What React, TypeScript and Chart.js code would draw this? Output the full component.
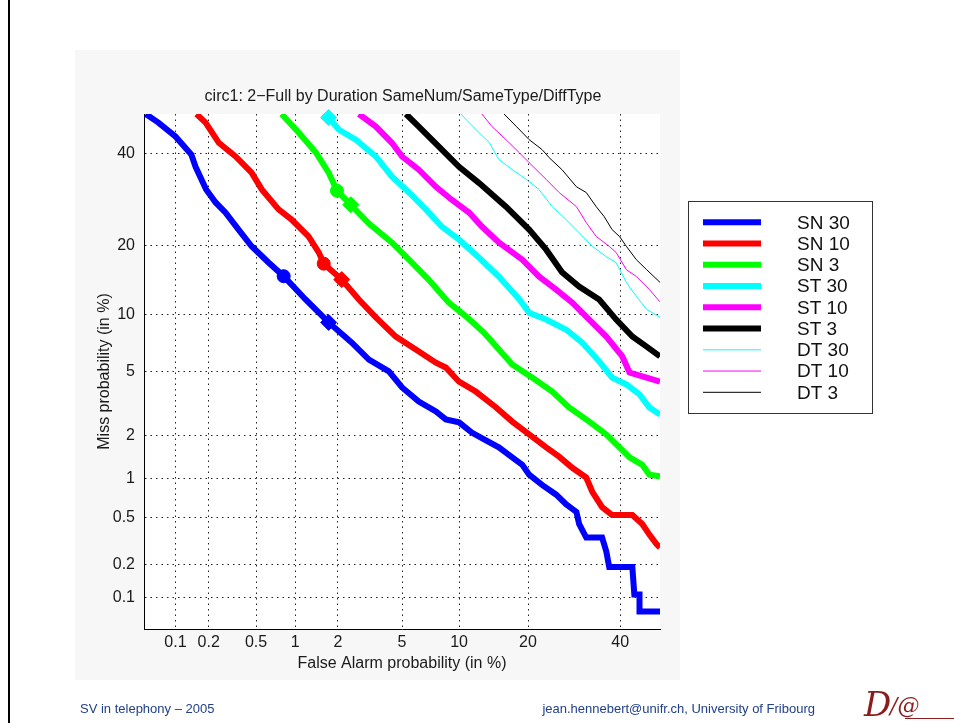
import React, { useEffect, useRef } from 'react';
import { Chart, Scale, LineController, LineElement, PointElement } from 'chart.js';

const FONT = "'Liberation Sans', Arial, Helvetica, sans-serif";

// ---- axis ----
const TICK_VALUES = [0.1, 0.2, 0.5, 1, 2, 5, 10, 20, 40];
const AXIS_MIN = 0.05;
const AXIS_MAX = 50;

// ---- series (False Alarm % / Miss %) ----
const SN30_FA = [0.052, 0.069, 0.1, 0.14, 0.153, 0.19, 0.23, 0.28, 0.36, 0.46, 0.63, 0.82, 1.19, 1.73, 2.47, 3.17, 4.19, 5.0, 6.2, 7.65, 8.6, 10.0, 11.5, 13.1, 15.2, 17.3, 19.0, 20.2, 22.6, 25.4, 27.5, 29.7, 30.3, 31.9, 35.6, 36.6, 37.3, 43.0, 43.5, 44.8, 44.8, 50];
const SN30_MISS = [50, 47.8, 44.3, 39.8, 36.8, 31.5, 28.6, 26.4, 23.0, 19.9, 17.1, 15.0, 11.8, 9.15, 7.2, 5.83, 5.0, 4.03, 3.31, 2.87, 2.55, 2.44, 2.09, 1.88, 1.66, 1.41, 1.25, 1.06, 0.89, 0.75, 0.63, 0.55, 0.44, 0.34, 0.34, 0.26, 0.19, 0.19, 0.107, 0.107, 0.074, 0.074];

const SN10_FA = [0.156, 0.188, 0.245, 0.34, 0.46, 0.555, 0.75, 0.94, 1.25, 1.48, 1.6, 2.12, 2.74, 3.5, 4.6, 6.0, 7.65, 8.6, 10.0, 12.0, 14.8, 17.3, 20.2, 23.4, 26.0, 28.8, 31.9, 33.3, 35.6, 38.0, 43.0, 45.5, 47.3, 49.1, 50];
const SN10_MISS = [50, 47.8, 42.7, 39.3, 35.4, 31.5, 27.1, 25.0, 21.7, 18.8, 16.95, 14.5, 11.8, 9.7, 7.75, 6.6, 5.6, 5.26, 4.36, 3.81, 3.04, 2.47, 2.03, 1.66, 1.43, 1.19, 1.01, 0.79, 0.6, 0.52, 0.52, 0.44, 0.36, 0.3, 0.28];

const SN3_FA = [0.79, 1.06, 1.41, 1.73, 1.97, 2.43, 3.17, 4.36, 5.47, 7.0, 8.9, 10.8, 13.1, 17.3, 20.8, 24.6, 28.1, 32.6, 36.6, 39.8, 42.3, 45.5, 47.3, 50];
const SN3_MISS = [50, 45.3, 40.3, 35.4, 31.2, 28.1, 24.2, 20.6, 17.6, 14.5, 11.4, 9.8, 8.1, 5.47, 4.6, 3.81, 3.04, 2.47, 2.03, 1.66, 1.41, 1.25, 1.06, 1.03];

const ST30_FA = [1.65, 2.03, 2.62, 3.5, 4.36, 5.47, 6.77, 8.2, 10.0, 12.4, 15.2, 18.5, 20.2, 23.4, 27.5, 31.0, 34.9, 38.0, 41.5, 44.8, 47.3, 50];
const ST30_MISS = [50, 46.0, 43.5, 39.3, 34.5, 30.8, 27.1, 23.6, 21.1, 17.96, 14.96, 11.8, 10.2, 9.45, 8.4, 7.2, 5.7, 4.6, 4.2, 3.66, 3.04, 2.74];

const ST10_FA = [2.74, 3.5, 4.36, 5.0, 6.2, 7.65, 9.2, 11.2, 12.8, 15.2, 19.0, 22.0, 25.4, 28.8, 32.6, 36.6, 40.5, 42.3, 46.6, 50];
const ST10_MISS = [50, 46.8, 42.7, 39.3, 36.1, 32.1, 29.2, 26.4, 23.6, 20.6, 17.6, 14.96, 13.1, 11.4, 9.45, 7.75, 6.07, 4.93, 4.6, 4.37];

const ST3_FA = [5.26, 6.2, 7.9, 10.0, 12.4, 16.3, 20.2, 23.4, 26.6, 30.3, 34.9, 39.0, 43.0, 46.6, 50];
const ST3_MISS = [50, 46.8, 41.8, 36.8, 33.0, 27.7, 23.0, 19.3, 15.6, 13.5, 11.8, 9.45, 7.75, 6.86, 6.07];

const DT30_FA = [10.2, 12.4, 13.8, 15.2, 17.3, 19.7, 22.0, 24.6, 27.5, 30.3, 33.3, 36.6, 39.0, 41.5, 44.0, 46.6, 50];
const DT30_MISS = [50, 45.3, 42.8, 38.6, 36.1, 33.8, 31.5, 27.7, 25.0, 22.4, 19.9, 18.1, 17.1, 14.1, 12.2, 10.6, 9.7];

const DT10_FA = [12.8, 14.2, 16.3, 18.5, 20.2, 23.4, 26.0, 29.7, 31.9, 34.2, 37.3, 39.0, 41.5, 44.0, 47.3, 50];
const DT10_MISS = [50, 46.8, 43.5, 40.2, 37.8, 33.8, 30.8, 27.7, 24.4, 21.7, 19.9, 18.8, 16.0, 14.96, 13.1, 11.5];

const DT3_FA = [16.0, 18.0, 20.2, 22.6, 24.0, 26.6, 29.7, 31.9, 34.2, 36.1, 38.0, 39.8, 41.5, 44.0, 46.6, 50];
const DT3_MISS = [50, 46.8, 43.5, 41.0, 39.0, 36.1, 32.1, 30.8, 27.7, 25.6, 23.0, 21.7, 19.9, 17.6, 16.0, 14.1];

// ---- operating-point markers ----
const CIRCLE_FA = [0.82, 1.6, 1.97];
const CIRCLE_MISS = [15.0, 16.95, 31.2];
const CIRCLE_COLORS = ['#0000ff', '#ff0000', '#00ff00'];
const DIAMOND_FA = [1.73, 2.12, 2.43, 1.73];
const DIAMOND_MISS = [9.15, 14.5, 28.1, 49.1];
const DIAMOND_COLORS = ['#0000ff', '#ff0000', '#00ff00', '#00ffff'];

const SERIES = [
  { label: 'SN 30', fa: SN30_FA, miss: SN30_MISS, color: '#0000ff', width: 6 },
  { label: 'SN 10', fa: SN10_FA, miss: SN10_MISS, color: '#ff0000', width: 6 },
  { label: 'SN 3', fa: SN3_FA, miss: SN3_MISS, color: '#00ff00', width: 6 },
  { label: 'ST 30', fa: ST30_FA, miss: ST30_MISS, color: '#00ffff', width: 6 },
  { label: 'ST 10', fa: ST10_FA, miss: ST10_MISS, color: '#ff00ff', width: 6 },
  { label: 'ST 3', fa: ST3_FA, miss: ST3_MISS, color: '#000000', width: 6 },
  { label: 'DT 30', fa: DT30_FA, miss: DT30_MISS, color: '#00ffff', width: 1 },
  { label: 'DT 10', fa: DT10_FA, miss: DT10_MISS, color: '#ff00ff', width: 1 },
  { label: 'DT 3', fa: DT3_FA, miss: DT3_MISS, color: '#000000', width: 1 },
];

const TITLE = 'circ1: 2\u2212Full by Duration SameNum/SameType/DiffType';

// inverse normal CDF (Acklam)
function probit(p: number): number {
  const a = [-3.969683028665376e1, 2.209460984245205e2, -2.759285104469687e2, 1.38357751867269e2, -3.066479806614716e1, 2.506628277459239];
  const b = [-5.447609879822406e1, 1.615858368580409e2, -1.556989798598866e2, 6.680131188771972e1, -1.328068155288572e1];
  const c = [-7.784894002430293e-3, -3.223964580411365e-1, -2.400758277161838, -2.549732539343734, 4.374664141464968, 2.938163982698783];
  const d = [7.784695709041462e-3, 3.224671290700398e-1, 2.445134137142996, 3.754408661907416];
  const pl = 0.02425;
  if (p < pl) {
    const q = Math.sqrt(-2 * Math.log(p));
    return (((((c[0] * q + c[1]) * q + c[2]) * q + c[3]) * q + c[4]) * q + c[5]) / ((((d[0] * q + d[1]) * q + d[2]) * q + d[3]) * q + 1);
  }
  if (p <= 1 - pl) {
    const q = p - 0.5;
    const r = q * q;
    return ((((((a[0] * r + a[1]) * r + a[2]) * r + a[3]) * r + a[4]) * r + a[5]) * q) / (((((b[0] * r + b[1]) * r + b[2]) * r + b[3]) * r + b[4]) * r + 1);
  }
  const q = Math.sqrt(-2 * Math.log(1 - p));
  return -(((((c[0] * q + c[1]) * q + c[2]) * q + c[3]) * q + c[4]) * q + c[5]) / ((((d[0] * q + d[1]) * q + d[2]) * q + d[3]) * q + 1);
}

function normCdf(z: number): number {
  const t = 1 / (1 + 0.2316419 * Math.abs(z));
  const y = 0.3989423 * Math.exp(-z * z / 2) * t * (0.3193815 + t * (-0.3565638 + t * (1.781478 + t * (-1.821256 + t * 1.330274))));
  return z > 0 ? 1 - y : y;
}

class ProbitScale extends Scale {
  static id = 'probit';
  static defaults = {};
  _zmin = 0;
  _zmax = 1;
  determineDataLimits() {
    this.min = this.options.min;
    this.max = this.options.max;
  }
  buildTicks() {
    return TICK_VALUES.map((value) => ({ value }));
  }
  configure() {
    super.configure();
    this._zmin = probit(this.min / 100);
    this._zmax = probit(this.max / 100);
  }
  getPixelForValue(v: number) {
    const z = probit(v / 100);
    return this.getPixelForDecimal((z - this._zmin) / (this._zmax - this._zmin));
  }
  getValueForPixel(px: number) {
    const dec = this.getDecimalForPixel(px);
    return 100 * normCdf(this._zmin + dec * (this._zmax - this._zmin));
  }
  getLabelForValue(v: number) {
    return String(v);
  }
}

Chart.register(LineController, LineElement, PointElement, ProbitScale);

const toPoints = (xs: number[], ys: number[]) => xs.map((x, i) => ({ x, y: ys[i] }));

const overlayPlugin = {
  id: 'overlay',
  beforeDatasetsDraw(chart: any) {},
  beforeDraw(chart: any) {
    const { ctx, chartArea } = chart;
    ctx.save();
    ctx.fillStyle = '#ffffff';
    ctx.fillRect(chartArea.left, chartArea.top, chartArea.right - chartArea.left, chartArea.bottom - chartArea.top);
    ctx.restore();
  },
  afterDraw(chart: any) {
    const { ctx, chartArea } = chart;
    ctx.save();
    // title
    ctx.fillStyle = '#1a1a1a';
    ctx.font = `16px ${FONT}`;
    ctx.textAlign = 'center';
    ctx.textBaseline = 'middle';
    ctx.fillText(TITLE, (chartArea.left + chartArea.right) / 2 + 1, 97);

    // legend
    const bx = 688, by = 201, bw = 184, bh = 212;
    ctx.fillStyle = '#ffffff';
    ctx.fillRect(bx, by, bw, bh);
    ctx.strokeStyle = '#333333';
    ctx.lineWidth = 1;
    ctx.strokeRect(bx + 0.5, by + 0.5, bw, bh);
    ctx.font = `19px ${FONT}`;
    ctx.textAlign = 'left';
    ctx.textBaseline = 'middle';
    SERIES.forEach((s, i) => {
      const y = 222.3 + i * 21.25;
      ctx.strokeStyle = s.color;
      ctx.lineWidth = s.width;
      ctx.beginPath();
      ctx.moveTo(703, y);
      ctx.lineTo(761, y);
      ctx.stroke();
      ctx.fillStyle = '#111111';
      ctx.fillText(s.label, 797, y + 1);
    });
    ctx.restore();
  },
};

const axisCommon = (titleText: string, isX: boolean) => ({
  type: 'probit',
  position: isX ? 'bottom' : 'left',
  min: AXIS_MIN,
  max: AXIS_MAX,
  grid: { color: '#222222', lineWidth: 1, drawTicks: false },
  border: { display: true, color: '#000000', width: 1, dash: [1.5, 4] },
  ticks: { color: '#1a1a1a', font: { family: FONT, size: 16 }, padding: isX ? 4 : 9, autoSkip: false, maxRotation: 0 },
  title: {
    display: true,
    text: titleText,
    color: '#1a1a1a',
    font: { family: FONT, size: 16 },
    padding: isX ? { top: 0, bottom: 4 } : { top: 4, bottom: 0 },
  },
  afterFit: (scale: any) => {
    if (isX) scale.height = 48;
    else scale.width = 53;
  },
});

export default function App() {
  const ref = useRef<HTMLCanvasElement>(null);
  useEffect(() => {
    if (!ref.current) return;
    const markerSets = [
      {
        label: '',
        data: toPoints(CIRCLE_FA, CIRCLE_MISS),
        showLine: false,
        pointStyle: 'circle',
        pointRadius: 6.5,
        pointBackgroundColor: CIRCLE_COLORS,
        pointBorderColor: CIRCLE_COLORS,
        pointBorderWidth: 1,
        clip: false,
      },
      {
        label: '',
        data: toPoints(DIAMOND_FA, DIAMOND_MISS),
        showLine: false,
        pointStyle: 'rectRot',
        pointRadius: 8,
        pointBackgroundColor: DIAMOND_COLORS,
        pointBorderColor: DIAMOND_COLORS,
        pointBorderWidth: 1,
        clip: false,
      },
    ];
    const lineSets = SERIES.slice().reverse().map((s) => ({
      label: s.label,
      data: toPoints(s.fa, s.miss),
      borderColor: s.color,
      backgroundColor: s.color,
      borderWidth: s.width,
      pointRadius: 0,
      tension: 0,
      fill: false,
      clip: 0,
    }));
    const chart = new Chart(ref.current, {
      type: 'line',
      data: { datasets: [...markerSets, ...lineSets] as any },
      options: {
        animation: false,
        responsive: false,
        devicePixelRatio: 1,
        parsing: true,
        layout: { padding: { left: 91, right: 294, top: 114, bottom: 46 } },
        scales: {
          x: axisCommon('False Alarm probability (in %)', true) as any,
          y: axisCommon('Miss probability (in %)', false) as any,
        },
        plugins: { legend: { display: false }, tooltip: { enabled: false } },
      },
      plugins: [overlayPlugin],
    } as any);
    return () => chart.destroy();
  }, []);

  return (
    <div style={{ position: 'absolute', left: 0, top: 0, width: 954, height: 723, background: '#ffffff', overflow: 'hidden', fontFamily: FONT }}>
      <div style={{ position: 'absolute', left: 8, top: 0, width: 2, height: 723, background: '#000000' }} />
      <div style={{ position: 'absolute', left: 75, top: 50, width: 605, height: 630, background: '#f7f7f7' }} />
      <canvas ref={ref} width={954} height={723} style={{ position: 'absolute', left: 0, top: 0, width: 954, height: 723 }} />
      <div style={{ position: 'absolute', left: 80, top: 701, fontSize: 13, lineHeight: '16px', color: '#22408a', whiteSpace: 'nowrap' }}>
        SV in telephony – 2005
      </div>
      <div style={{ position: 'absolute', right: 139, top: 701, fontSize: 13, lineHeight: '16px', color: '#22408a', whiteSpace: 'nowrap', textAlign: 'right' }}>
        jean.hennebert@unifr.ch, University of Fribourg
      </div>
      <div style={{ position: 'absolute', left: 864, top: 684, fontFamily: "'DejaVu Serif', serif", fontStyle: 'italic', fontSize: 34, lineHeight: '40px', color: '#8a1c1c' }}>
        D
      </div>
      <div style={{ position: 'absolute', left: 890, top: 693, fontFamily: "'DejaVu Serif', serif", fontStyle: 'italic', fontSize: 22, lineHeight: '26px', color: '#8a1c1c' }}>
        /@
      </div>
      <div style={{ position: 'absolute', left: 905, top: 718, width: 49, height: 1, background: '#8a1c1c' }} />
    </div>
  );
}
